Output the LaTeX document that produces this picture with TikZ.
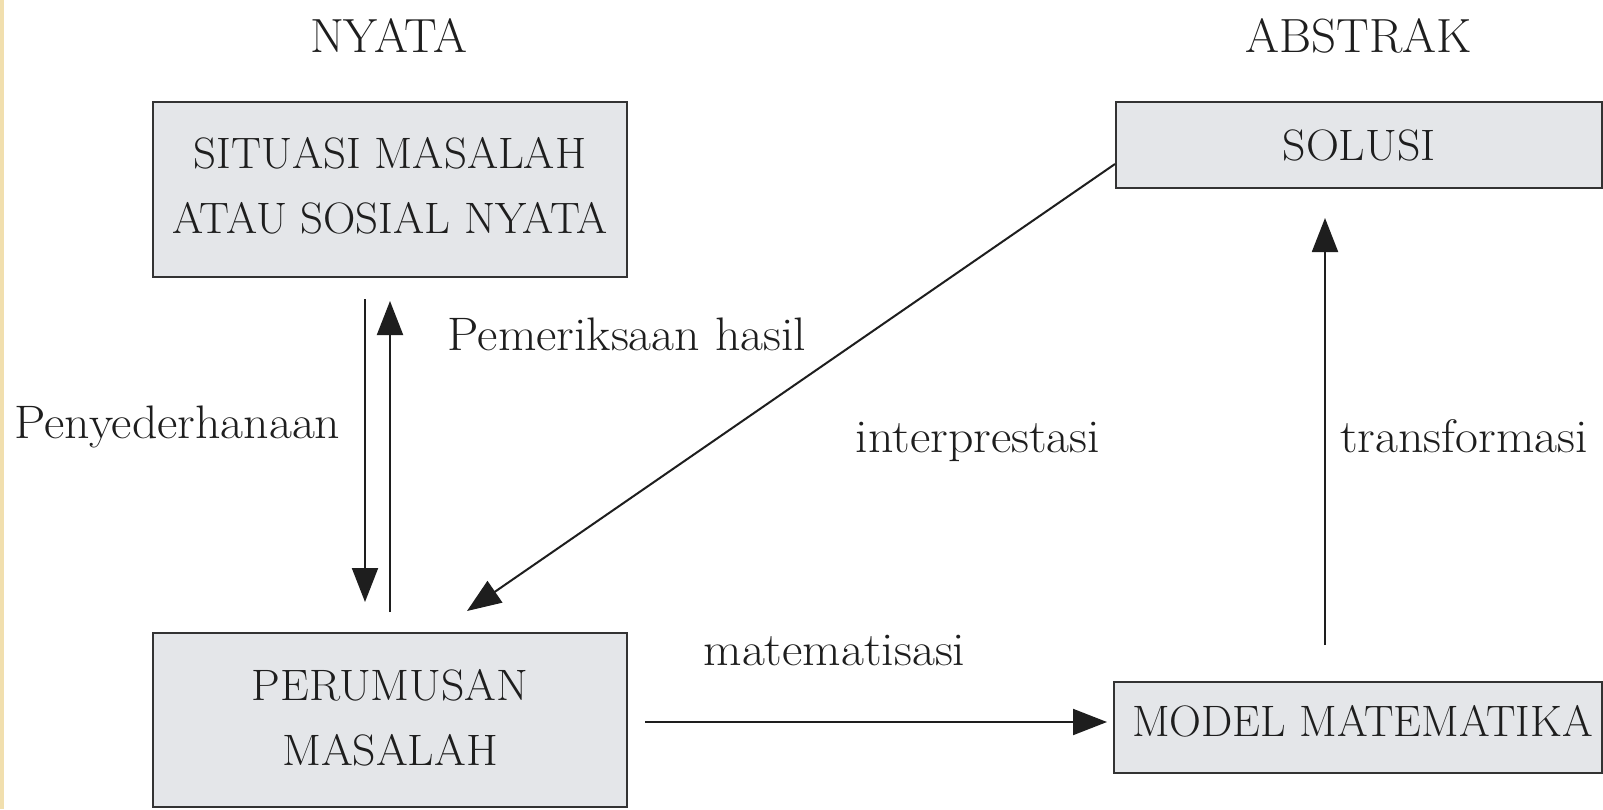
\documentclass[tikz,border=0pt]{standalone}
\usetikzlibrary{arrows.meta}
\definecolor{boxfill}{HTML}{E4E6E9}
\definecolor{boxline}{HTML}{333333}
\definecolor{ink}{HTML}{1E1E1E}
\definecolor{strip}{HTML}{F1DFAE}
\newcommand\bxt[1]{\scalebox{1.02}[1]{#1}}
\newcommand\lbt[1]{\scalebox{1.06}[1]{#1}}
\newcommand\hdt[1]{\scalebox{1.02}[1]{#1}}
\begin{document}
\begin{tikzpicture}[x=1pt,y=-1pt,
  box/.style={draw=boxline,line width=2pt,fill=boxfill,inner sep=0pt,align=center,text=ink,
    font=\fontsize{44}{65}\selectfont},
  lbl/.style={text=ink,inner sep=0pt,font=\fontsize{47}{55}\selectfont,anchor=base},
  hdg/.style={text=ink,inner sep=0pt,font=\fontsize{48}{55}\selectfont,anchor=base},
  arr/.style={draw=ink,line width=2pt,-{Triangle[length=34pt,width=26pt]}}]
\useasboundingbox (0,0) rectangle (1603,809);
\fill[white] (0,0) rectangle (1603,809);
\fill[strip] (0,0) rectangle (4,809);
% boxes
\node[box,minimum width=474pt,minimum height=175pt,text depth=8pt] (sit) at (390,189.5)
  {\bxt{SITUASI MASALAH}\\\bxt{ATAU SOSIAL NYATA}};
\node[box,minimum width=486pt,minimum height=86pt] (sol) at (1359,145) {\scalebox{1.04}[1]{SOLUSI}};
\node[box,minimum width=474pt,minimum height=174pt,text depth=5pt] (per) at (390,720)
  {\scalebox{1.04}[1]{PERUMUSAN}\\\scalebox{1.04}[1]{MASALAH}};
\node[box,minimum width=488pt,minimum height=91pt,text height=30pt,text depth=13pt] (mod) at (1358,727.5)
  {\hspace*{9pt}\scalebox{1.005}[1]{MODEL MATEMATIKA}};
% headings and labels
\node[hdg] (nyata) at (388.5,52) {\hdt{NYATA}};
\node[hdg] (abstrak) at (1359,52) {\hdt{ABSTRAK}};
\node[lbl] (pem) at (627,350) {\lbt{Pemeriksaan hasil}};
\node[lbl] (peny) at (177.5,438) {\lbt{Penyederhanaan}};
\node[lbl] (intp) at (978,452) {\lbt{interprestasi}};
\node[lbl] (trans) at (1464,452) {\lbt{transformasi}};
\node[lbl] (mat) at (834.5,665) {\lbt{matematisasi}};
% connectors
\draw[arr] ([xshift=-25pt,yshift=-21pt]sit.south) -- ([xshift=-25pt,yshift=30pt]per.north);
\draw[arr] ([yshift=20pt]per.north) -- ([yshift=-23pt]sit.south);
\draw[arr] ([xshift=17pt,yshift=-2pt]per.east) -- ([xshift=-6pt,yshift=5.5pt]mod.west);
\draw[arr] ([xshift=-33pt,yshift=36pt]mod.north) -- ([xshift=-34pt,yshift=-29pt]sol.south);
\draw[arr] ([yshift=-19pt]sol.west) -- ([xshift=77pt,yshift=21pt]per.north);
\end{tikzpicture}
\end{document}
